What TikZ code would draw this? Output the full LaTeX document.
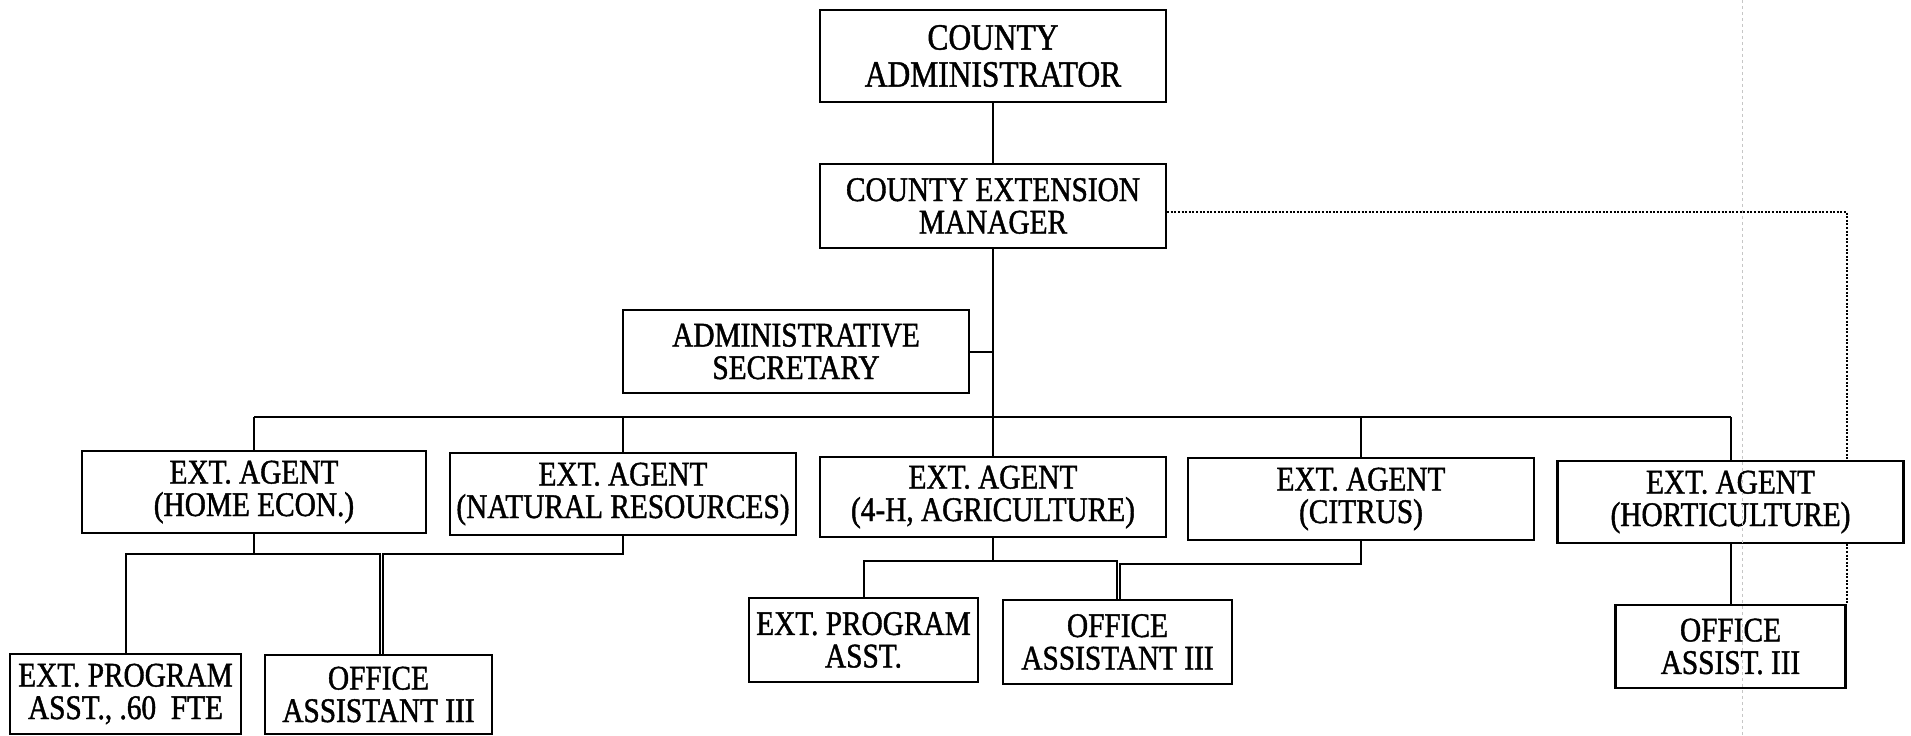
\documentclass[tikz,border=0pt]{standalone}
\usepackage{fontspec}
\setmainfont{Liberation Serif}[FakeStretch=0.85, FakeBold=1.2]
\usetikzlibrary{backgrounds}

\begin{document}
\begin{tikzpicture}[x=1pt,y=1pt,
  box/.style={draw, line width=2.2pt, fill=white, inner sep=0pt, align=center,
              font=\fontsize{34.5}{32.5}\selectfont},
  wire/.style={line width=2pt},
  link/.style={line width=1.8pt, dash pattern=on 2pt off 1.6pt},
  fold/.style={gray!45, line width=0.9pt, dash pattern=on 3pt off 3pt},
]
\useasboundingbox (0,0) rectangle (1911,-736);

% --- top of the chart
\node[box, minimum width=346pt, minimum height=92pt, font=\fontsize{37}{37}\selectfont]
  (adm) at (993,-56) {COUNTY\\ADMINISTRATOR};
\node[box, minimum width=346pt, minimum height=84pt] (mgr) at (993,-206) {COUNTY EXTENSION\\MANAGER};
\node[box, minimum width=346pt, minimum height=83pt] (sec) at (796,-351.5) {ADMINISTRATIVE\\SECRETARY};

% --- extension agents
\node[box, minimum width=344pt, minimum height=82pt] (he) at (254,-492) {EXT. AGENT\\(HOME ECON.)};
\node[box, minimum width=346pt, minimum height=82pt] (nr) at (623,-494) {EXT. AGENT\\(NATURAL RESOURCES)};
\node[box, minimum width=346pt, minimum height=80pt] (fh) at (993,-497) {EXT. AGENT\\(4-H, AGRICULTURE)};
\node[box, minimum width=346pt, minimum height=82pt] (ci) at (1361,-499) {EXT. AGENT\\(CITRUS)};
\node[box, minimum width=346pt, minimum height=82pt] (ho) at (1730.5,-502) {EXT. AGENT\\(HORTICULTURE)};

% --- support staff
\node[box, minimum width=231pt, minimum height=80pt] (epa1) at (125.5,-694) {EXT. PROGRAM\\ASST., .60~~FTE};
\node[box, minimum width=227pt, minimum height=79pt] (oa1) at (378.5,-694.5) {OFFICE\\ASSISTANT III};
\node[box, minimum width=229pt, minimum height=84pt] (epa2) at (863.5,-640) {EXT. PROGRAM\\ASST.};
\node[box, minimum width=229pt, minimum height=84pt] (oa2) at (1117.5,-642) {OFFICE\\ASSISTANT III};
\node[box, minimum width=230pt, minimum height=83pt] (oa3) at (1730.5,-646.5) {OFFICE\\ASSIST. III};

% --- reporting lines
\coordinate (busy) at (0,-417);
\draw[wire] (adm.south) -- (mgr.north);
\draw[wire] (mgr.south) -- (mgr.south |- busy);
\draw[wire] (sec.east) -- (sec.east -| mgr.south);
\draw[wire] (he.north |- busy) -- (ho.north |- busy);
\foreach \n in {he,nr,fh,ci,ho}
  \draw[wire] (\n.north) -- (\n.north |- busy);

% home economics and natural resources staff
\coordinate (j1) at (380,-554);
\coordinate (j2) at (383,-554);
\draw[wire] (he.south) -- (he.south |- j1);
\draw[wire] (epa1.north) -- (epa1.north |- j1) -- (j1) -- (j1 |- oa1.north);
\draw[wire] (nr.south) -- (nr.south |- j2) -- (j2) -- (j2 |- oa1.north);

% 4-H and citrus staff
\coordinate (k1) at (1117,-561);
\coordinate (k2) at (1120,-564);
\draw[wire] (fh.south) -- (fh.south |- k1);
\draw[wire] (epa2.north) -- (epa2.north |- k1) -- (k1) -- (k1 |- oa2.north);
\draw[wire] (ci.south) -- (ci.south |- k2) -- (k2) -- (k2 |- oa2.north);

% horticulture staff
\draw[wire] (ho.south) -- (oa3.north);

% dotted line from the manager
\begin{scope}[on background layer]
  \coordinate (dx) at (1847,-212);
  \draw[link] (mgr.east |- dx) -- (dx) -- (dx |- oa3.north);
\end{scope}

% paper fold
\draw[fold] (1742,0) -- (1742,-736);
\end{tikzpicture}
\end{document}
